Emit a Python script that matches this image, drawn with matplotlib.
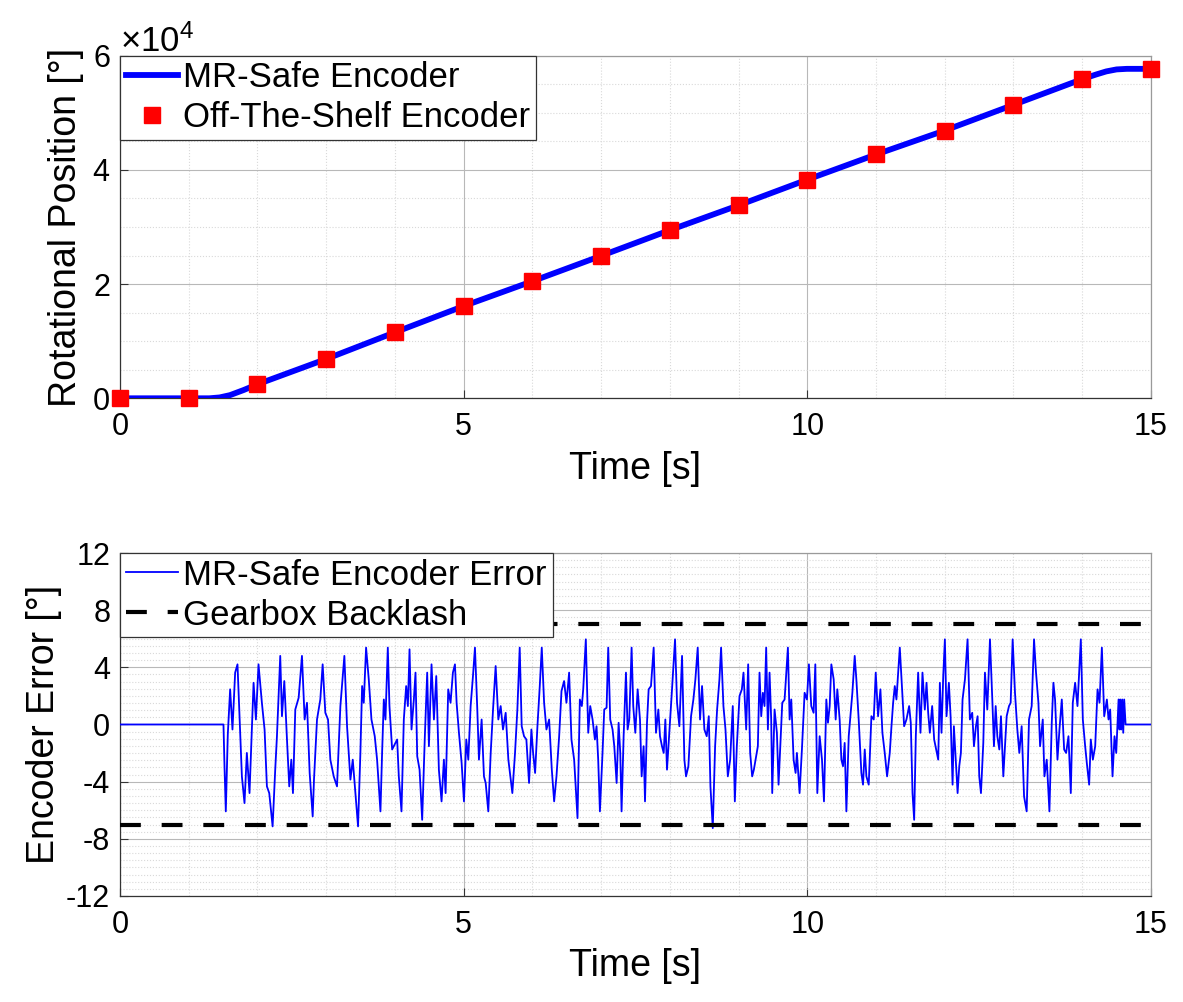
import matplotlib
matplotlib.use("Agg")
import matplotlib.pyplot as plt
from matplotlib import font_manager
from matplotlib.ticker import MultipleLocator, ScalarFormatter

plt.rcParams['font.family'] = ['Liberation Sans', 'DejaVu Sans']
plt.rcParams['mathtext.fontset'] = 'custom'
plt.rcParams['mathtext.rm'] = 'Liberation Sans'
plt.rcParams['mathtext.it'] = 'Liberation Sans'
plt.rcParams['axes.unicode_minus'] = False

# ---- data: rotational position (top) ----
pos_t = [0, 1.0, 1.3, 1.45, 1.6, 1.8, 2.0, 3, 4, 5, 6, 7, 8, 9, 10, 11, 12, 13, 14,
         14.2, 14.35, 14.5, 14.65, 15]
pos_deg = [0, 0, 0, 150, 550, 1450, 2450, 6880, 11550, 16150, 20500, 24950, 29450,
           33800, 38300, 42700, 46900, 51400, 55900, 56700, 57250, 57600, 57700, 57700]

ref_t = [0, 1, 2, 3, 4, 5, 6, 7, 8, 9, 10, 11, 12, 13, 14, 15]
ref_deg = [0, 0, 2500, 6880, 11550, 16150, 20500, 24950, 29450, 33800, 38300,
           42700, 46900, 51400, 55900, 57700]

# ---- data: encoder error (bottom) ----
err_t = [
    0.0, 1.506, 1.521, 1.540, 1.569, 1.603, 1.637, 1.676, 1.710, 1.774, 1.812, 1.846,
    1.885, 1.944, 1.978, 2.016, 2.065, 2.104, 2.138, 2.172, 2.221, 2.259, 2.284, 2.332,
    2.357, 2.391, 2.430, 2.463, 2.493, 2.517, 2.551, 2.600, 2.648, 2.687, 2.721, 2.760,
    2.804, 2.823, 2.867, 2.915, 2.949, 2.988, 3.027, 3.061, 3.110, 3.158, 3.207, 3.265,
    3.304, 3.353, 3.387, 3.426, 3.464, 3.498, 3.523, 3.547, 3.581, 3.620, 3.659, 3.707,
    3.741, 3.790, 3.814, 3.839, 3.863, 3.897, 3.921, 3.960,
    4.033, 4.057, 4.096, 4.130, 4.164, 4.189, 4.213, 4.242, 4.276, 4.300, 4.325, 4.359,
    4.397, 4.436, 4.470, 4.495, 4.533, 4.568, 4.602, 4.640, 4.679, 4.713, 4.738, 4.776,
    4.810, 4.844, 4.874, 4.898, 4.932, 4.971, 5.005, 5.039, 5.068, 5.102, 5.136, 5.165,
    5.199, 5.223, 5.262, 5.296, 5.321, 5.359, 5.394, 5.428, 5.466, 5.505, 5.539, 5.573,
    5.612, 5.651, 5.685, 5.709, 5.748, 5.782, 5.816, 5.845, 5.879, 5.913, 5.952, 5.986,
    6.011, 6.040, 6.074, 6.108, 6.137, 6.171, 6.205, 6.244, 6.283, 6.317, 6.351, 6.390,
    6.424, 6.462, 6.496, 6.535, 6.569, 6.608,
    6.657, 6.691, 6.720, 6.740, 6.778, 6.813, 6.842, 6.876, 6.910, 6.934, 6.958, 6.983,
    7.021, 7.046, 7.080, 7.104, 7.133, 7.167, 7.192, 7.226, 7.255, 7.279, 7.298, 7.328,
    7.362, 7.386, 7.410, 7.444, 7.468, 7.498, 7.532, 7.566, 7.590, 7.619, 7.639, 7.668,
    7.692, 7.726, 7.765, 7.799, 7.833, 7.857, 7.886, 7.911, 7.935, 7.959, 7.993, 8.032,
    8.076, 8.105, 8.139, 8.178, 8.212, 8.236, 8.270, 8.309, 8.343, 8.372, 8.406, 8.440,
    8.469, 8.503, 8.537, 8.567, 8.591, 8.625, 8.659, 8.688, 8.722, 8.746, 8.780, 8.810,
    8.844, 8.878, 8.916, 8.946, 8.975, 9.014, 9.048, 9.072, 9.111, 9.140, 9.169, 9.198,
    9.223,
    9.281, 9.305, 9.330, 9.354, 9.378, 9.402, 9.427, 9.451, 9.475, 9.490, 9.524, 9.558,
    9.582, 9.607, 9.636, 9.670, 9.718, 9.743, 9.767, 9.801, 9.830, 9.849, 9.888, 9.922,
    9.961, 9.995, 10.024, 10.058, 10.092, 10.117, 10.146, 10.180, 10.214, 10.243, 10.277,
    10.301, 10.326, 10.350, 10.384, 10.413, 10.437, 10.471, 10.496, 10.520, 10.544,
    10.569, 10.603, 10.632, 10.656, 10.690, 10.714, 10.748, 10.787, 10.811, 10.836,
    10.860, 10.894, 10.933, 10.967, 10.996, 11.030, 11.064, 11.093, 11.127, 11.161,
    11.200, 11.225, 11.249, 11.273, 11.297, 11.346, 11.380, 11.409, 11.443, 11.482,
    11.506, 11.531, 11.555, 11.579, 11.613, 11.647, 11.676, 11.710, 11.735, 11.759,
    11.783, 11.817, 11.846,
    11.905, 11.929, 11.953, 11.978, 12.002, 12.026, 12.060, 12.085, 12.114, 12.133,
    12.157, 12.187, 12.211, 12.235, 12.259, 12.294, 12.332, 12.366, 12.400, 12.425,
    12.454, 12.478, 12.502, 12.527, 12.561, 12.585, 12.619, 12.658, 12.692, 12.716,
    12.741, 12.765, 12.794, 12.818, 12.852, 12.877, 12.901, 12.935, 12.959, 12.988,
    13.022, 13.056, 13.085, 13.119, 13.154, 13.192, 13.226, 13.265, 13.299, 13.328,
    13.363, 13.387, 13.426, 13.450, 13.484, 13.523, 13.557, 13.581, 13.605, 13.640,
    13.669, 13.703, 13.737, 13.766, 13.800, 13.834, 13.863, 13.897, 13.931, 13.980,
    14.009, 14.043, 14.067, 14.101, 14.125, 14.155, 14.189, 14.223, 14.252, 14.286,
    14.320, 14.359, 14.383, 14.407, 14.441, 14.470, 14.495, 14.529, 14.543, 14.553,
    14.568, 14.582, 14.597, 14.611, 14.631, 15.0,
]
err_deg = [
    0.0, 0.0, -2.92, -6.08, -0.70, 2.46, -0.35, 3.63, 4.21, -3.63, -5.50, -1.99,
    -4.80, 2.92, 0.35, 4.21, 1.52, -0.35, -4.33, -4.80, -7.13, -3.16, -0.82, 4.80,
    0.58, 3.04, -1.05, -4.33, -2.46, -4.80, 1.05, 1.87, 4.80, 0.35, 1.52, -3.39,
    -6.43, -3.86, 0.35, 1.75, 4.21, 0.82, 0.35, -2.46, -3.63, -4.33, 1.29, 4.80,
    -0.12, -3.86, -2.46, -4.80, -7.13, -1.99, 2.69, 1.52, 5.38, 3.16, 0.35, -0.82,
    -2.46, -6.08, -1.99, 1.75, 0.35, 5.38, 1.29, -1.75,
    -1.05, -3.63, -6.08, 0.35, 2.69, 1.29, 5.26, -0.35, 1.75, 3.63, -2.22, -3.16,
    -6.67, -0.82, 3.63, -1.52, 4.21, 0.35, 3.39, -3.16, -5.38, -2.46, -4.80, 2.46,
    1.52, 3.63, 4.21, 1.52, -0.58, -2.69, -5.38, -1.05, -2.46, 1.29, 3.39, 5.38,
    1.05, -2.46, 0.35, -3.63, -4.09, -6.08, -1.99, 1.05, 4.09, 0.35, 1.29, -0.35,
    0.82, -2.46, -3.86, -4.80, -1.99, 1.05, 5.38, -0.12, -0.82, -1.05, -4.09, -0.35,
    -1.99, -3.39, -0.12, 2.69, 5.38, 1.52, -0.35, 0.35, -3.16, -5.38, -3.63, -0.82,
    2.34, 3.04, 1.52, 3.63, -1.05, -2.46,
    -6.55, 1.75, 1.29, 2.46, 5.96, -0.58, 1.29, 0.35, -1.05, -0.12, -2.46, -6.08,
    -1.99, 1.05, 1.17, 5.38, 0.35, -0.35, -1.52, -4.09, 0.12, -1.99, -6.08, -0.82,
    3.63, -0.35, 0.35, 5.38, 1.29, -0.58, 2.46, 0.35, -3.63, -1.52, -5.38, 0.12,
    2.46, 2.69, 5.38, -0.58, 1.05, -0.82, -1.52, -1.99, 0.35, -3.16, -0.58, 2.46,
    5.96, 1.52, -0.12, 4.80, -2.46, -3.63, -2.92, 0.58, 1.75, 3.16, 5.38, 0.35,
    2.69, -0.35, -0.82, 0.58, -4.33, -7.25, -1.52, 1.05, 3.16, 5.38, 1.29, -0.35,
    -3.63, -2.46, 1.29, -5.38, -1.52, 1.99, 2.46, 3.63, -0.35, 4.21, -1.99, -3.63,
    -3.16,
    -1.52, 3.63, 0.58, 2.22, 1.29, 5.38, -0.35, 3.63, 0.35, -4.80, 1.05, -0.58,
    -4.21, -1.52, 1.52, 1.75, 5.38, 0.35, 1.75, -2.46, -3.39, -1.99, -4.80, -1.75,
    2.22, 1.75, 4.21, 1.29, 0.82, 4.21, -4.80, -0.82, -2.46, -5.38, 1.75,
    0.12, 1.29, 4.21, 3.16, 0.35, 2.46, 0.35, -2.46, -2.92, -1.29,
    -6.08, -0.82, 0.82, 2.22, 4.80, 3.16, 0.35, -3.39, -4.21, -1.75,
    -3.63, -4.21, 0.58, 0.35, 3.63, 0.58, 2.46, -0.58, -1.99, -3.63,
    -1.99, -0.12, 1.52, 2.69, 1.75, 5.38, 2.46, -0.12, 0.35, 1.29,
    0.12, -4.80, -6.67, -0.82, 3.63, -0.58, 3.63, 1.05, 2.92, 0.82,
    -0.58, 1.29, -1.05,
    -2.46, 2.92, -0.58, 3.39, 5.96, 0.58, 2.92, 0.58, -4.21, -0.12,
    -2.22, -4.80, -2.92, -1.99, 1.75, 3.16, 5.96, 0.35, 0.82, -1.52,
    -0.12, 0.58, -3.63, -4.80, -1.29, 3.63, 1.05, 5.96, 1.75, -1.52,
    1.29, -0.82, -1.75, 0.58, -3.63, -1.52, 0.58, 1.29, 1.52, 5.96,
    2.22, -0.35, -1.99, -0.12, -5.03, -6.08, 0.35, 1.29, 5.96, 3.63,
    1.52, -1.52, 0.35, -3.63, -2.46, -6.08, 0.12, 2.92, 1.75, -2.46,
    -0.35, 1.75, -1.75, -1.99, -0.82, -4.80, 1.52, 2.92, 1.29, 5.96,
    0.35, -1.52, -2.69, -4.21, -1.05, -2.46, -1.52, 2.46, 1.52, 5.38,
    0.58, 1.75, 0.35, 1.05, -3.63, -0.82, -1.99, 1.75, -0.35, 1.75,
    -0.35, 1.75, -0.58, 1.75, 0.0, 0.0,
]

backlash = 7.0
t_range = [0, 15]

# ---- styling ----
installed = {f.name for f in font_manager.fontManager.ttflist}
if 'Liberation Sans Narrow' in installed:
    TICK_FAMILY = 'Liberation Sans Narrow'
    TICK_FS = 24
else:
    TICK_FAMILY = 'Liberation Sans'
    TICK_FS = 22
LABEL_FS = 27
LEG_FS = 25


def style_axes(ax):
    ax.set_axisbelow(True)
    ax.grid(which='major', color='#b8b8b8', linewidth=0.8, linestyle='-')
    ax.grid(which='minor', color='#d9d9d9', linewidth=0.8, linestyle=':')
    ax.tick_params(which='major', direction='in', length=6, width=0.8,
                   color='#333333', labelsize=TICK_FS, top=False, right=False)
    ax.tick_params(which='minor', length=0)
    ax.tick_params(axis='x', pad=10)
    ax.tick_params(axis='y', pad=7)
    for side in ['left', 'bottom']:
        ax.spines[side].set_color('#333333')
        ax.spines[side].set_linewidth(0.9)
    for side in ['top', 'right']:
        ax.spines[side].set_color('#9a9a9a')
        ax.spines[side].set_linewidth(0.9)


fig = plt.figure(figsize=(11.83, 10.02), dpi=100)
ax1 = fig.add_axes([0.1014, 0.6025, 0.8715, 0.3419])
ax2 = fig.add_axes([0.1014, 0.1058, 0.8715, 0.3423])

# top panel
ax1.plot(pos_t, pos_deg, color='#0000ff', linewidth=4.2, label='MR-Safe Encoder', zorder=3)
ax1.plot(ref_t, ref_deg, linestyle='none', marker='s', markersize=11,
         color='#ff0000', label='Off-The-Shelf Encoder', zorder=4, clip_on=False)
ax1.set_xlim(t_range)
ax1.set_ylim(0, 60000)
ax1.set_xticks([0, 5, 10, 15])
ax1.set_yticks([0, 20000, 40000, 60000])
ax1.xaxis.set_minor_locator(MultipleLocator(1))
ax1.yaxis.set_minor_locator(MultipleLocator(5000))
fmt = ScalarFormatter(useMathText=True)
fmt.set_powerlimits((-3, 3))
ax1.yaxis.set_major_formatter(fmt)
style_axes(ax1)
ax1.set_xlabel('Time [s]', fontsize=LABEL_FS, labelpad=6)
ax1.set_ylabel('Rotational Position [°]', fontsize=LABEL_FS, labelpad=6)
leg1 = ax1.legend(loc='upper left', fontsize=LEG_FS, borderaxespad=0, fancybox=False,
                  framealpha=1, edgecolor='#333333', borderpad=0.16, labelspacing=0.2,
                  handlelength=1.5, handletextpad=0.17, numpoints=1)
leg1.get_frame().set_linewidth(0.9)

# bottom panel
ax2.plot(err_t, err_deg, color='#0000ff', linewidth=1.3, label='MR-Safe Encoder Error', zorder=3)
ax2.plot(t_range, [backlash, backlash], color='black', linewidth=3.0, dashes=(5, 5),
         label='Gearbox Backlash', zorder=4)
ax2.plot(t_range, [-backlash, -backlash], color='black', linewidth=3.0, dashes=(5, 5), zorder=4)
ax2.set_xlim(t_range)
ax2.set_ylim(-12, 12)
ax2.set_xticks([0, 5, 10, 15])
ax2.set_yticks([-12, -8, -4, 0, 4, 8, 12])
ax2.xaxis.set_minor_locator(MultipleLocator(1))
ax2.yaxis.set_minor_locator(MultipleLocator(0.5))
style_axes(ax2)
ax2.set_xlabel('Time [s]', fontsize=LABEL_FS, labelpad=6)
ax2.set_ylabel('Encoder Error [°]', fontsize=LABEL_FS, labelpad=3)
leg2 = ax2.legend(loc='upper left', fontsize=LEG_FS, borderaxespad=0, fancybox=False,
                  framealpha=1, edgecolor='#333333', borderpad=0.16, labelspacing=0.2,
                  handlelength=1.5, handletextpad=0.17)
leg2.get_frame().set_linewidth(0.9)

# tick label fonts are applied once the ticks exist
fig.canvas.draw()
for ax in (ax1, ax2):
    for lab in ax.get_xticklabels() + ax.get_yticklabels():
        lab.set_fontfamily(TICK_FAMILY)
ax1.yaxis.get_offset_text().set_fontsize(25)

fig.savefig('out.png', dpi=100)
